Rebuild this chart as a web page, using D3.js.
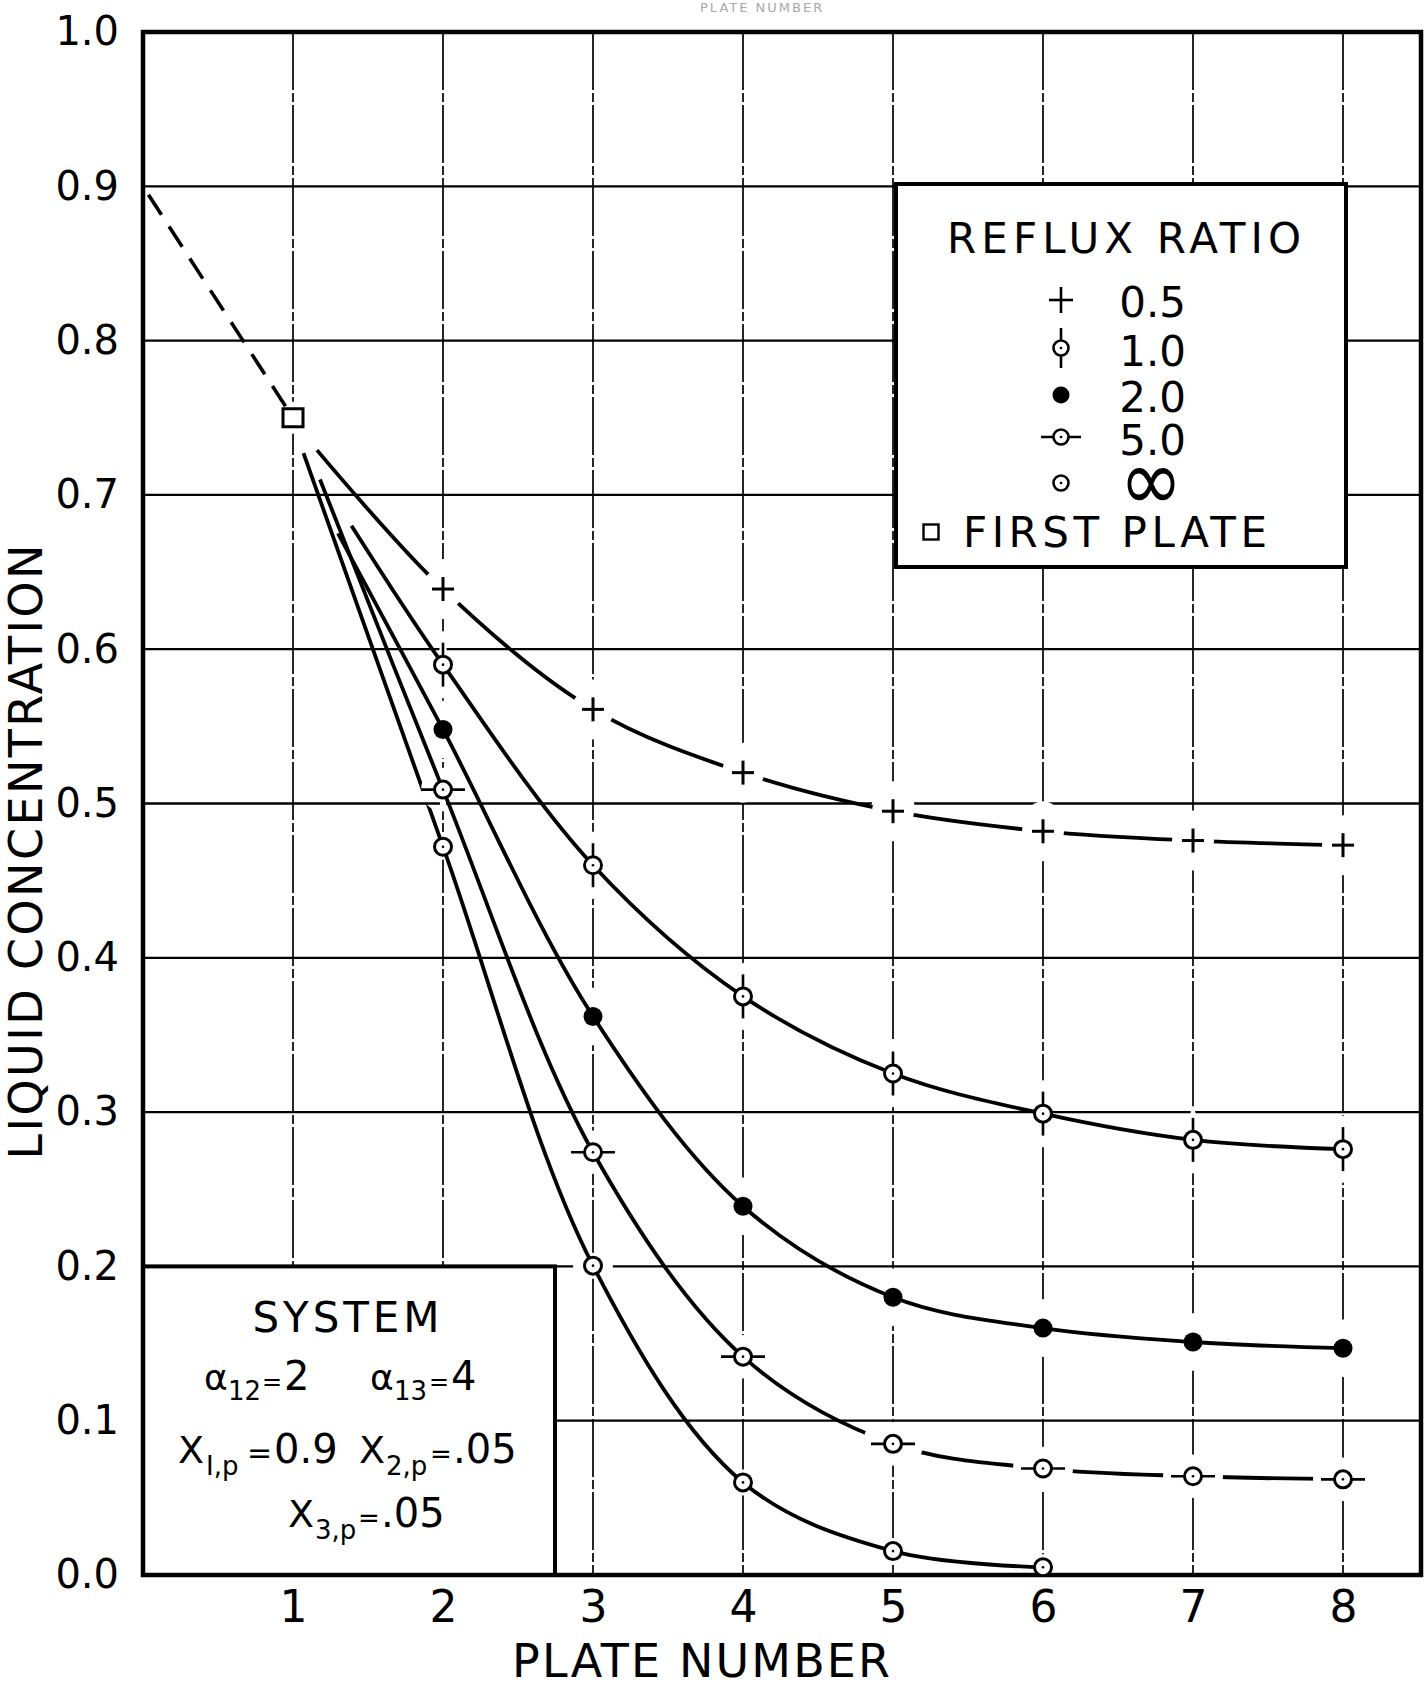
<!DOCTYPE html>
<html>
<head>
<meta charset="utf-8">
<script src="https://cdn.jsdelivr.net/npm/d3@7"></script>
<style>
  html, body { margin: 0; padding: 0; background: #fff; }
  svg { display: block; font-family: "DejaVu Sans", "Liberation Sans", sans-serif; }
</style>
</head>
<body>
<svg id="chart" width="1427" height="1691"></svg>
<script>
// ---- data -------------------------------------------------------------
const plateTicks = [1, 2, 3, 4, 5, 6, 7, 8];
const concTicks = [0.0, 0.1, 0.2, 0.3, 0.4, 0.5, 0.6, 0.7, 0.8, 0.9, 1.0];

// plates at which liquid concentrations were computed
const plates = [2, 3, 4, 5, 6, 7, 8];

// liquid concentration of key component on each plate, by reflux ratio
const conc05  = [0.639, 0.561, 0.520, 0.495, 0.482, 0.476, 0.473];
const conc10  = [0.590, 0.460, 0.375, 0.325, 0.299, 0.282, 0.276];
const conc20  = [0.548, 0.362, 0.239, 0.180, 0.160, 0.151, 0.147];
const conc50  = [0.509, 0.274, 0.1415, 0.085, 0.069, 0.064, 0.062];
const concInf = [0.472, 0.2005, 0.060, 0.0155, 0.005];

const refluxLabels = ["0.5", "1.0", "2.0", "5.0", "\u221E"];

// where each curve leaves the first plate
const curveStartPlate = [1.16, 1.39, 1.30, 1.18, 1.07];
const curveStartConc  = [0.729, 0.680, 0.675, 0.710, 0.727];

// product composition and first plate
const feedPlate = 0, feedConc = 0.9;
const firstPlate = 1, firstPlateConc = 0.75;

// ---- setup ------------------------------------------------------------
const svg = d3.select("#chart");
const x = d3.scaleLinear().domain([0, 8.52]).range([143, 1421]);
const y = d3.scaleLinear().domain([0, 1]).range([1575, 32]);

const markerTypes = ["plus", "circleV", "filled", "circleH", "dot"];
const allConc = [conc05, conc10, conc20, conc50, concInf];
const series = allConc.map((vals, i) => ({
  label: refluxLabels[i],
  marker: markerTypes[i],
  pts: vals.map((v, j) => [plates[j], v]),
  start: [curveStartPlate[i], curveStartConc[i]]
}));

svg.append("rect").attr("width", 1427).attr("height", 1691).attr("fill", "#fff");

// faint lettering showing through from the reverse of the sheet
svg.append("text").attr("x", 700).attr("y", 12)
  .attr("font-size", 13).attr("fill", "#a8a8a8").attr("letter-spacing", 2)
  .text("PLATE NUMBER");

// ---- grid -------------------------------------------------------------
const grid = svg.append("g").attr("stroke", "#000").attr("fill", "none");
grid.selectAll("line.h").data(concTicks.filter(d => d > 0 && d < 1)).join("line")
  .attr("x1", x(0)).attr("x2", x(8.52))
  .attr("y1", d => y(d)).attr("y2", d => y(d))
  .attr("stroke-width", 2.3);
grid.selectAll("line.v").data(plateTicks).join("line")
  .attr("x1", d => x(d)).attr("x2", d => x(d))
  .attr("y1", y(1)).attr("y2", y(0))
  .attr("stroke-width", 1.7)
  .attr("stroke-dasharray", "58 3 9 3");

// clear the ruling around every plotted point
const eraseSize = { plus: [22, 30], circleV: [4, 34], filled: [5, 29], circleH: [4, 22], dot: [20, 13] };
const erasers = svg.append("g").attr("fill", "#fff");
series.forEach(s => {
  const [rx, ry] = eraseSize[s.marker];
  erasers.selectAll(null).data(s.pts).join("ellipse")
    .attr("cx", d => x(d[0])).attr("cy", d => y(d[1]))
    .attr("rx", rx).attr("ry", ry);
});
erasers.append("rect")
  .attr("x", x(firstPlate) - 16).attr("y", y(firstPlateConc) - 16)
  .attr("width", 32).attr("height", 32);

// ---- boxes --------------------------------------------------------------
// system description box (lower left)
svg.append("rect")
  .attr("x", x(0)).attr("y", y(0.2))
  .attr("width", 555 - x(0)).attr("height", y(0) - y(0.2))
  .attr("fill", "#fff").attr("stroke", "#000").attr("stroke-width", 4);

// legend box (upper right)
svg.append("rect")
  .attr("x", 896).attr("y", 184).attr("width", 450).attr("height", 383)
  .attr("fill", "#fff").attr("stroke", "#000").attr("stroke-width", 4);

// plot frame
svg.append("rect")
  .attr("x", x(0)).attr("y", y(1))
  .attr("width", x(8.52) - x(0)).attr("height", y(0) - y(1))
  .attr("fill", "none").attr("stroke", "#000").attr("stroke-width", 4.5);

// ---- axes -------------------------------------------------------------
const yAxis = svg.append("g").attr("transform", `translate(${x(0)},0)`)
  .call(d3.axisLeft(y).tickValues(concTicks).tickFormat(d3.format(".1f"))
    .tickSize(0).tickPadding(24));
yAxis.select(".domain").remove();
yAxis.selectAll("text").attr("font-size", 40).attr("font-family", "DejaVu Sans").attr("fill", "#000");

const xAxis = svg.append("g").attr("transform", `translate(0,${y(0)})`)
  .call(d3.axisBottom(x).tickValues(plateTicks).tickFormat(d3.format("d"))
    .tickSize(0).tickPadding(16));
xAxis.select(".domain").remove();
xAxis.selectAll("text").attr("font-size", 44).attr("font-family", "DejaVu Sans").attr("fill", "#000");

svg.append("text")
  .attr("x", 701).attr("y", 1677).attr("text-anchor", "middle")
  .attr("font-size", 46).attr("textLength", 378).attr("lengthAdjust", "spacing")
  .text("PLATE NUMBER");

svg.append("text")
  .attr("transform", "translate(42,852) rotate(-90)")
  .attr("text-anchor", "middle")
  .attr("font-size", 46).attr("textLength", 615).attr("lengthAdjust", "spacing")
  .text("LIQUID CONCENTRATION");

// ---- curves -----------------------------------------------------------
const line = d3.line().x(d => x(d[0])).y(d => y(d[1])).curve(d3.curveCatmullRom.alpha(0.5));
const defs = svg.append("defs");

// gaps cut into the curves next to certain symbols
const gapHoles = {
  plus: s => s.pts.map(p => [p[0], p[1], 21]),
  circleH: s => s.pts.filter(p => p[0] >= 5).map(p => [p[0], p[1], 30]),
  dot: () => [[series[3].pts[0][0], series[3].pts[0][1], 22]]
};

series.forEach((s, i) => {
  const holes = gapHoles[s.marker] ? gapHoles[s.marker](s) : [];
  const m = defs.append("mask").attr("id", "gap" + i).attr("maskUnits", "userSpaceOnUse")
    .attr("x", 0).attr("y", 0).attr("width", 1427).attr("height", 1691);
  m.append("rect").attr("width", 1427).attr("height", 1691).attr("fill", "#fff");
  m.selectAll("circle").data(holes).join("circle")
    .attr("cx", d => x(d[0])).attr("cy", d => y(d[1])).attr("r", d => d[2]).attr("fill", "#000");

  svg.append("path")
    .attr("d", line([s.start, ...s.pts]))
    .attr("fill", "none").attr("stroke", "#000").attr("stroke-width", 3.8)
    .attr("stroke-linecap", "butt")
    .attr("mask", `url(#gap${i})`);
});

// product composition to first plate (dashed)
svg.append("path")
  .attr("d", d3.line().x(d => x(d[0])).y(d => y(d[1]))([[feedPlate, feedConc], [firstPlate, firstPlateConc]]))
  .attr("fill", "none").attr("stroke", "#000").attr("stroke-width", 3.6)
  .attr("stroke-dasharray", "24 14").attr("stroke-dashoffset", 28);

// ---- symbols ------------------------------------------------------------
function drawMarker(g, type, cx, cy, opt = {}) {
  const r = opt.r || 8.5;
  const arm = opt.arm || 22;
  const sw = opt.sw || 3;
  if (type === "plus") {
    const a = opt.plus || 11;
    g.append("line").attr("x1", cx - a).attr("x2", cx + a).attr("y1", cy).attr("y2", cy)
      .attr("stroke", "#000").attr("stroke-width", sw);
    g.append("line").attr("x1", cx).attr("x2", cx).attr("y1", cy - a - 1).attr("y2", cy + a + 1)
      .attr("stroke", "#000").attr("stroke-width", sw);
    return;
  }
  if (type === "square") {
    const w = opt.w || 20, h = opt.h || 18;
    g.append("rect").attr("x", cx - w / 2).attr("y", cy - h / 2).attr("width", w).attr("height", h)
      .attr("fill", "#fff").attr("stroke", "#000").attr("stroke-width", sw);
    return;
  }
  if (type === "circleV") {
    g.append("line").attr("x1", cx).attr("x2", cx).attr("y1", cy - arm).attr("y2", cy + arm)
      .attr("stroke", "#000").attr("stroke-width", 2.6);
  }
  if (type === "circleH") {
    g.append("line").attr("x1", cx - arm).attr("x2", cx + arm).attr("y1", cy).attr("y2", cy)
      .attr("stroke", "#000").attr("stroke-width", 2.6);
  }
  if (type === "filled") {
    g.append("circle").attr("cx", cx).attr("cy", cy).attr("r", opt.rf || 9.5).attr("fill", "#000");
    return;
  }
  g.append("circle").attr("cx", cx).attr("cy", cy).attr("r", r)
    .attr("fill", "#fff").attr("stroke", "#000").attr("stroke-width", sw);
  g.append("circle").attr("cx", cx).attr("cy", cy).attr("r", 1.3).attr("fill", "#000");
}

const marks = svg.append("g");
series.forEach(s => {
  s.pts.forEach(p => drawMarker(marks, s.marker, x(p[0]), y(p[1])));
});
drawMarker(marks, "square", x(firstPlate), y(firstPlateConc));

// ---- legend -------------------------------------------------------------
const leg = svg.append("g");
leg.append("text").attr("x", 1124).attr("y", 253).attr("text-anchor", "middle")
  .attr("font-size", 42).attr("textLength", 354).attr("lengthAdjust", "spacing")
  .text("REFLUX RATIO");

const legRowY = [300, 348, 395, 437, 483];
const legBase = [317, 366, 412, 455, 497];
series.forEach((s, i) => {
  drawMarker(leg, s.marker, 1061, legRowY[i], { r: 7.5, arm: 20, rf: 8.5, plus: 12, sw: 2.6 });
  if (s.marker === "dot") {
    // the infinity sign is lettered as tall as the digits
    leg.append("g").attr("transform", `translate(1151,${legRowY[i] + 27}) scale(1.05,1.2)`)
      .append("text").attr("x", 0).attr("y", 0).attr("text-anchor", "middle")
      .attr("font-size", 72).text(s.label);
  } else {
    leg.append("text").attr("x", 1186).attr("y", legBase[i]).attr("text-anchor", "end")
      .attr("font-size", 42).text(s.label);
  }
});
drawMarker(leg, "square", 931, 532, { w: 15, h: 15, sw: 2.4 });
leg.append("text").attr("x", 963).attr("y", 547)
  .attr("font-size", 42).attr("textLength", 304).attr("lengthAdjust", "spacing")
  .text("FIRST PLATE");

// ---- system description ------------------------------------------------
const sys = svg.append("g");
sys.append("text").attr("x", 346).attr("y", 1332).attr("text-anchor", "middle")
  .attr("font-size", 42).attr("textLength", 187).attr("lengthAdjust", "spacing")
  .text("SYSTEM");

function richLine(baseline, parts) {
  const t = sys.append("text").attr("y", baseline);
  parts.forEach(p => {
    t.append("tspan").attr("x", p[1]).attr("y", baseline + (p[3] || 0))
      .attr("font-size", p[2]).text(p[0]);
  });
}
richLine(1390, [
  ["\u03B1", 204, 36], ["12", 228, 26, 10], ["=", 262, 24], ["2", 284, 40],
  ["\u03B1", 370, 36], ["13", 394, 26, 10], ["=", 429, 24], ["4", 451, 40]
]);
richLine(1463, [
  ["X", 178, 38], ["I,p", 206, 26, 12], ["=", 247, 30], ["0.9", 274, 40],
  ["X", 359, 38], ["2,p", 386, 26, 12], ["=", 430, 26], [".05", 453, 40]
]);
richLine(1527, [
  ["X", 288, 38], ["3,p", 315, 26, 12], ["=", 358, 26], [".05", 381, 40]
]);
</script>
</body>
</html>
